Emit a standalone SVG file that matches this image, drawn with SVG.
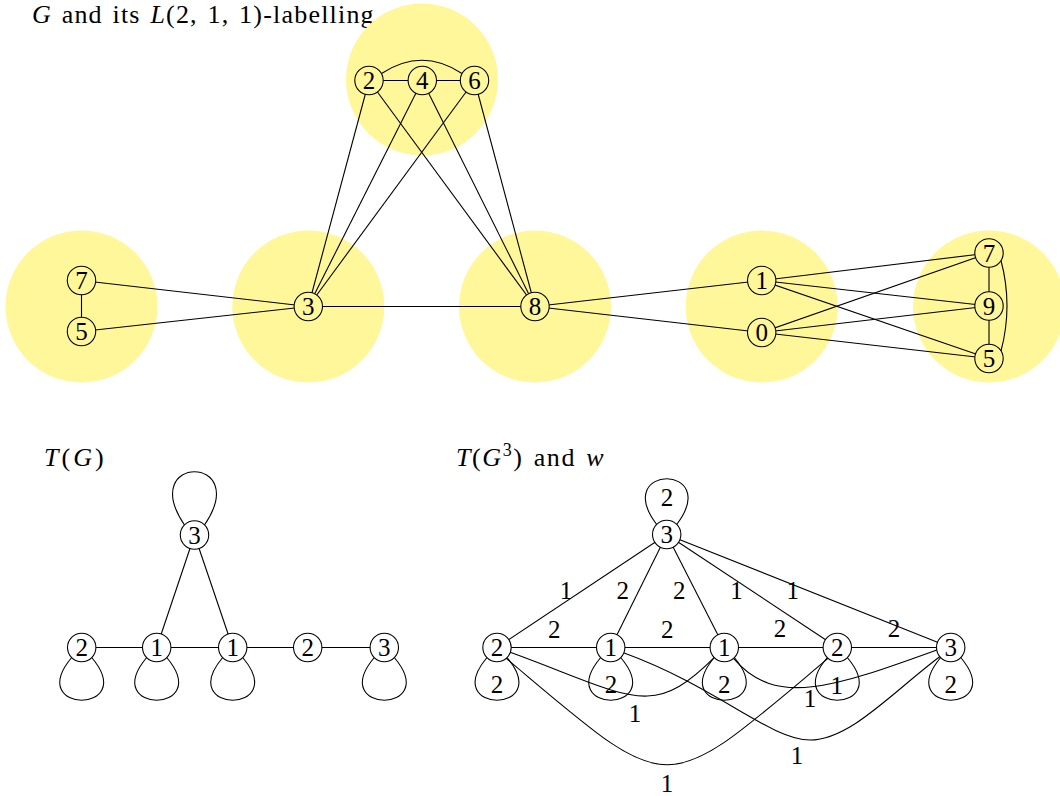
<svg xmlns="http://www.w3.org/2000/svg" width="1060" height="796" viewBox="0 0 1060 796" font-family="'Liberation Serif', 'DejaVu Serif', serif">
<style>
.cl{fill:#fff799;stroke:none}
.e{fill:none;stroke:#000;stroke-width:1.1}
.ny circle{fill:#fff799;stroke:#000;stroke-width:1.1}
.nw circle{fill:#fff;stroke:#000;stroke-width:1.1}
text{font-family:'Liberation Serif','DejaVu Serif',serif;font-size:25px;fill:#000}
.c{text-anchor:middle}
.i{font-style:italic}
.t{font-size:26px;letter-spacing:1.2px;word-spacing:2px}
</style>
<rect width="1060" height="796" fill="#fff"/>
<g id="titles">
<text class="t" x="32" y="23"><tspan class="i">G</tspan> and its <tspan class="i">L</tspan>(2, 1, 1)-labelling</text>
<text class="t" x="44" y="466" style="letter-spacing:3px"><tspan class="i">T</tspan>(<tspan class="i">G</tspan>)</text>
<text class="t" x="456" y="466" style="letter-spacing:1.6px"><tspan class="i">T</tspan>(<tspan class="i">G</tspan><tspan font-size="18" dy="-10">3</tspan><tspan dy="10">) and </tspan><tspan class="i">w</tspan></text>
</g>
<g id="clusters">
<circle class="cl" cx="81.5" cy="306.5" r="76"/>
<circle class="cl" cx="308.3" cy="306.5" r="76"/>
<circle class="cl" cx="535" cy="306.5" r="76"/>
<circle class="cl" cx="761.7" cy="306.5" r="76"/>
<circle class="cl" cx="989" cy="306.5" r="76"/>
<circle class="cl" cx="422" cy="79.5" r="76"/>
</g>
<g id="connectors">
<line class="e" x1="81.5" y1="280.5" x2="81.5" y2="331.5"/>
<line class="e" x1="81.5" y1="280.5" x2="308.3" y2="306.5"/>
<line class="e" x1="81.5" y1="331.5" x2="308.3" y2="306.5"/>
<line class="e" x1="308.3" y1="306.5" x2="535" y2="306.5"/>
<line class="e" x1="308.3" y1="306.5" x2="369" y2="80.5"/>
<line class="e" x1="308.3" y1="306.5" x2="422.3" y2="80.5"/>
<line class="e" x1="308.3" y1="306.5" x2="474.5" y2="80.5"/>
<line class="e" x1="535" y1="306.5" x2="369" y2="80.5"/>
<line class="e" x1="535" y1="306.5" x2="422.3" y2="80.5"/>
<line class="e" x1="535" y1="306.5" x2="474.5" y2="80.5"/>
<line class="e" x1="369" y1="80.5" x2="474.5" y2="80.5"/>
<path class="e" d="M381.5,73.5 Q422,47 462,73.5"/>
<line class="e" x1="535" y1="306.5" x2="761.7" y2="280.5"/>
<line class="e" x1="535" y1="306.5" x2="761.7" y2="332.5"/>
<line class="e" x1="761.7" y1="280.5" x2="989" y2="253"/>
<line class="e" x1="761.7" y1="280.5" x2="989" y2="306"/>
<line class="e" x1="761.7" y1="280.5" x2="989" y2="358.5"/>
<line class="e" x1="761.7" y1="332.5" x2="989" y2="253"/>
<line class="e" x1="761.7" y1="332.5" x2="989" y2="306"/>
<line class="e" x1="761.7" y1="332.5" x2="989" y2="358.5"/>
<line class="e" x1="989" y1="253" x2="989" y2="358.5"/>
<path class="e" d="M1001,260.5 Q1013,305.75 1001,351"/>
<line class="e" x1="194.5" y1="535" x2="156.7" y2="647.5"/>
<line class="e" x1="194.5" y1="535" x2="232.7" y2="647.5"/>
<line class="e" x1="81.7" y1="647.5" x2="384.3" y2="647.5"/>
<path class="e" d="M184.5,525 C136.5,454 252.5,454 204.5,525"/>
<path class="e" d="M71.7,657.5 C23.7,714.5 139.7,714.5 91.7,657.5"/>
<path class="e" d="M146.7,657.5 C98.7,714.5 214.7,714.5 166.7,657.5"/>
<path class="e" d="M222.7,657.5 C174.7,714.5 290.7,714.5 242.7,657.5"/>
<path class="e" d="M374.3,657.5 C326.3,714.5 442.3,714.5 394.3,657.5"/>
<line class="e" x1="666.7" y1="534.5" x2="497" y2="647.5"/>
<line class="e" x1="666.7" y1="534.5" x2="610.7" y2="647.5"/>
<line class="e" x1="666.7" y1="534.5" x2="724.3" y2="647.5"/>
<line class="e" x1="666.7" y1="534.5" x2="837.3" y2="647.5"/>
<line class="e" x1="666.7" y1="534.5" x2="950.7" y2="647.5"/>
<line class="e" x1="497" y1="647.5" x2="950.7" y2="647.5"/>
<path class="e" d="M656.7,524.5 C610.7,463.5 722.7,463.5 676.7,524.5"/>
<path class="e" d="M487,657.5 C439,714.5 555,714.5 507,657.5"/>
<path class="e" d="M600.7,657.5 C552.7,714.5 668.7,714.5 620.7,657.5"/>
<path class="e" d="M714.3,657.5 C666.3,714.5 782.3,714.5 734.3,657.5"/>
<path class="e" d="M827.3,657.5 C779.3,714.5 895.3,714.5 847.3,657.5"/>
<path class="e" d="M940.7,657.5 C892.7,714.5 1008.7,714.5 960.7,657.5"/>
<path class="e" d="M510.2,652.3 C632.4,696.8 650.8,721 714.4,657.4"/>
<path class="e" d="M623.5,652.8 C717.5,687 770,740 810,740 C850,740 892,692.5 940,656.5"/>
<path class="e" d="M733.3,658.2 C775.1,708 833.5,687.3 936.9,649.9"/>
<path class="e" d="M506,658.2 C675,800.3 659.3,800.3 828.3,658.2"/>
</g>
<g id="edge-labels">
<text class="c" x="667" y="505.5">2</text>
<text class="c" x="566" y="598.5">1</text>
<text class="c" x="622.7" y="598.5">2</text>
<text class="c" x="679.3" y="598.5">2</text>
<text class="c" x="736.5" y="598.5">1</text>
<text class="c" x="792.7" y="598.5">1</text>
<text class="c" x="554.3" y="637.5">2</text>
<text class="c" x="667.3" y="637.5">2</text>
<text class="c" x="780" y="637">2</text>
<text class="c" x="894" y="637">2</text>
<text class="c" x="497" y="692.5">2</text>
<text class="c" x="611" y="692.5">2</text>
<text class="c" x="724.3" y="692.5">2</text>
<text class="c" x="836.7" y="693.5">1</text>
<text class="c" x="950.7" y="692.5">2</text>
<text class="c" x="635" y="721.5">1</text>
<text class="c" x="810" y="706.5">1</text>
<text class="c" x="797" y="763.5">1</text>
<text class="c" x="667" y="791.5">1</text>
</g>
<g id="g-l7" class="ny"><circle cx="81.5" cy="280.5" r="14.2"/><text class="c" x="81.5" y="289">7</text></g>
<g id="g-l5" class="ny"><circle cx="81.5" cy="331.5" r="14.2"/><text class="c" x="81.5" y="340">5</text></g>
<g id="g-3" class="ny"><circle cx="308.3" cy="306.5" r="14.2"/><text class="c" x="308.3" y="315">3</text></g>
<g id="g-8" class="ny"><circle cx="535" cy="306.5" r="14.2"/><text class="c" x="535" y="315">8</text></g>
<g id="g-2" class="ny"><circle cx="369" cy="80.5" r="14.2"/><text class="c" x="369" y="89">2</text></g>
<g id="g-4" class="ny"><circle cx="422.3" cy="80.5" r="14.2"/><text class="c" x="422.3" y="89">4</text></g>
<g id="g-6" class="ny"><circle cx="474.5" cy="80.5" r="14.2"/><text class="c" x="474.5" y="89">6</text></g>
<g id="g-1" class="ny"><circle cx="761.7" cy="280.5" r="14.2"/><text class="c" x="761.7" y="289">1</text></g>
<g id="g-0" class="ny"><circle cx="761.7" cy="332.5" r="14.2"/><text class="c" x="761.7" y="341">0</text></g>
<g id="g-r7" class="ny"><circle cx="989" cy="253" r="14.2"/><text class="c" x="989" y="261.5">7</text></g>
<g id="g-r9" class="ny"><circle cx="989" cy="306" r="14.2"/><text class="c" x="989" y="314.5">9</text></g>
<g id="g-r5" class="ny"><circle cx="989" cy="358.5" r="14.2"/><text class="c" x="989" y="367">5</text></g>
<g id="t-3" class="nw"><circle cx="194.5" cy="535" r="14.2"/><text class="c" x="194.5" y="543.5">3</text></g>
<g id="t-2a" class="nw"><circle cx="81.7" cy="647.5" r="14.2"/><text class="c" x="81.7" y="656">2</text></g>
<g id="t-1a" class="nw"><circle cx="156.7" cy="647.5" r="14.2"/><text class="c" x="156.7" y="656">1</text></g>
<g id="t-1b" class="nw"><circle cx="232.7" cy="647.5" r="14.2"/><text class="c" x="232.7" y="656">1</text></g>
<g id="t-2b" class="nw"><circle cx="307.7" cy="647.5" r="14.2"/><text class="c" x="307.7" y="656">2</text></g>
<g id="t-3b" class="nw"><circle cx="384.3" cy="647.5" r="14.2"/><text class="c" x="384.3" y="656">3</text></g>
<g id="w-3" class="nw"><circle cx="666.7" cy="534.5" r="14.2"/><text class="c" x="666.7" y="543">3</text></g>
<g id="w-2a" class="nw"><circle cx="497" cy="647.5" r="14.2"/><text class="c" x="497" y="656">2</text></g>
<g id="w-1a" class="nw"><circle cx="610.7" cy="647.5" r="14.2"/><text class="c" x="610.7" y="656">1</text></g>
<g id="w-1b" class="nw"><circle cx="724.3" cy="647.5" r="14.2"/><text class="c" x="724.3" y="656">1</text></g>
<g id="w-2b" class="nw"><circle cx="837.3" cy="647.5" r="14.2"/><text class="c" x="837.3" y="656">2</text></g>
<g id="w-3b" class="nw"><circle cx="950.7" cy="647.5" r="14.2"/><text class="c" x="950.7" y="656">3</text></g>
</svg>
